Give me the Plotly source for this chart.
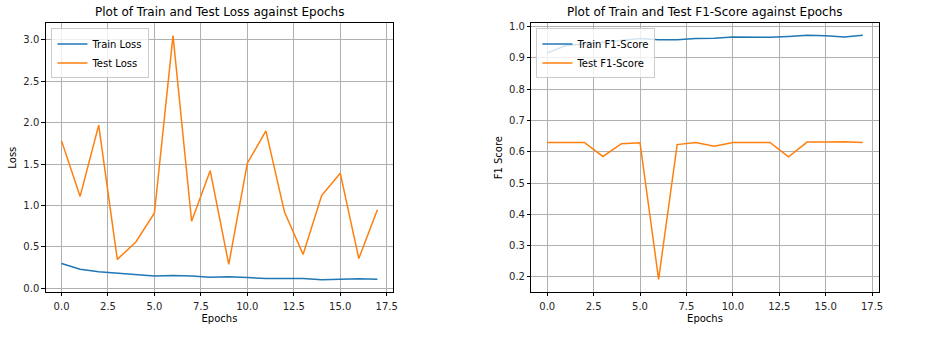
import plotly.graph_objects as go

epochs = list(range(18))
train_loss = [0.30, 0.23, 0.20, 0.185, 0.165, 0.15, 0.155, 0.15, 0.135, 0.14, 0.13, 0.12, 0.12, 0.12, 0.105, 0.11, 0.115, 0.11]
test_loss = [1.78, 1.11, 1.97, 0.35, 0.56, 0.91, 3.05, 0.81, 1.42, 0.29, 1.51, 1.90, 0.92, 0.41, 1.12, 1.39, 0.36, 0.95]
train_f1 = [0.916, 0.940, 0.945, 0.950, 0.955, 0.962, 0.958, 0.958, 0.962, 0.963, 0.967, 0.967, 0.966, 0.969, 0.973, 0.971, 0.967, 0.973]
test_f1 = [0.630, 0.630, 0.630, 0.585, 0.626, 0.629, 0.192, 0.623, 0.630, 0.618, 0.630, 0.630, 0.630, 0.584, 0.631, 0.631, 0.632, 0.630]
x_ticks = [0, 2.5, 5, 7.5, 10, 12.5, 15, 17.5]
loss_ticks = [0, 0.5, 1.0, 1.5, 2.0, 2.5, 3.0]
f1_ticks = [0.2, 0.3, 0.4, 0.5, 0.6, 0.7, 0.8, 0.9, 1.0]

W, H = 934, 341
BLUE, ORANGE = "#1f77b4", "#ff7f0e"
FONT = "DejaVu Sans"

fig = go.Figure()
fig.add_trace(go.Scatter(x=epochs, y=train_loss, mode="lines", name="Train Loss",
                         line=dict(color=BLUE, width=1.5), xaxis="x", yaxis="y", legend="legend"))
fig.add_trace(go.Scatter(x=epochs, y=test_loss, mode="lines", name="Test Loss",
                         line=dict(color=ORANGE, width=1.5), xaxis="x", yaxis="y", legend="legend"))
fig.add_trace(go.Scatter(x=epochs, y=train_f1, mode="lines", name="Train F1-Score",
                         line=dict(color=BLUE, width=1.5), xaxis="x2", yaxis="y2", legend="legend2"))
fig.add_trace(go.Scatter(x=epochs, y=test_f1, mode="lines", name="Test F1-Score",
                         line=dict(color=ORANGE, width=1.5), xaxis="x2", yaxis="y2", legend="legend2"))

ydom = [1 - 293.3 / H, 1 - 21.7 / H]
x1dom = [46 / W, 395.3 / W]
x2dom = [534.3 / W, 883.3 / W]

common = dict(showline=True, linecolor="black", linewidth=1, mirror=True,
              ticks="outside", ticklen=3.5, tickcolor="black", tickwidth=0.8,
              showgrid=True, gridcolor="#b0b0b0", gridwidth=0.8, zeroline=False,
              tickfont=dict(family=FONT, size=10, color="#262626"),
              tickformat=".1f")

fig.update_layout(
    width=W, height=H,
    margin=dict(l=0, r=0, t=0, b=0),
    paper_bgcolor="white", plot_bgcolor="white",
    font=dict(family=FONT, size=10, color="black"),
    xaxis=dict(domain=x1dom, anchor="y", range=[-0.85, 17.85], tickvals=x_ticks, ticklabelstandoff=2,
               title=dict(text="Epochs", standoff=3, font=dict(size=10)), **common),
    yaxis=dict(domain=ydom, anchor="x", range=[-0.042, 3.197], tickvals=loss_ticks,
               title=dict(text="Loss", standoff=4, font=dict(size=10)), **common),
    xaxis2=dict(domain=x2dom, anchor="y2", range=[-0.85, 17.85], tickvals=x_ticks, ticklabelstandoff=2,
                title=dict(text="Epochs", standoff=3, font=dict(size=10)), **common),
    yaxis2=dict(domain=ydom, anchor="x2", range=[0.152, 1.0104], tickvals=f1_ticks,
                title=dict(text="F1 Score", standoff=4, font=dict(size=10)), **common),
    legend=dict(x=51.7 / W, y=1 - 26.7 / H, xanchor="left", yanchor="top",
                bgcolor="rgba(255,255,255,0.8)", bordercolor="#cccccc", borderwidth=1,
                font=dict(family=FONT, size=10), tracegroupgap=0),
    legend2=dict(x=539.3 / W, y=1 - 26.7 / H, xanchor="left", yanchor="top",
                 bgcolor="rgba(255,255,255,0.8)", bordercolor="#cccccc", borderwidth=1,
                 font=dict(family=FONT, size=10), tracegroupgap=0),
    annotations=[
        dict(text="Plot of Train and Test Loss against Epochs", xref="paper", yref="paper",
             x=(x1dom[0] + x1dom[1]) / 2, y=ydom[1] + 2 / H, xanchor="center", yanchor="bottom",
             showarrow=False, font=dict(family=FONT, size=12, color="black")),
        dict(text="Plot of Train and Test F1-Score against Epochs", xref="paper", yref="paper",
             x=(x2dom[0] + x2dom[1]) / 2, y=ydom[1] + 2 / H, xanchor="center", yanchor="bottom",
             showarrow=False, font=dict(family=FONT, size=12, color="black")),
    ],
    showlegend=True,
)

fig.write_html("out.html")
